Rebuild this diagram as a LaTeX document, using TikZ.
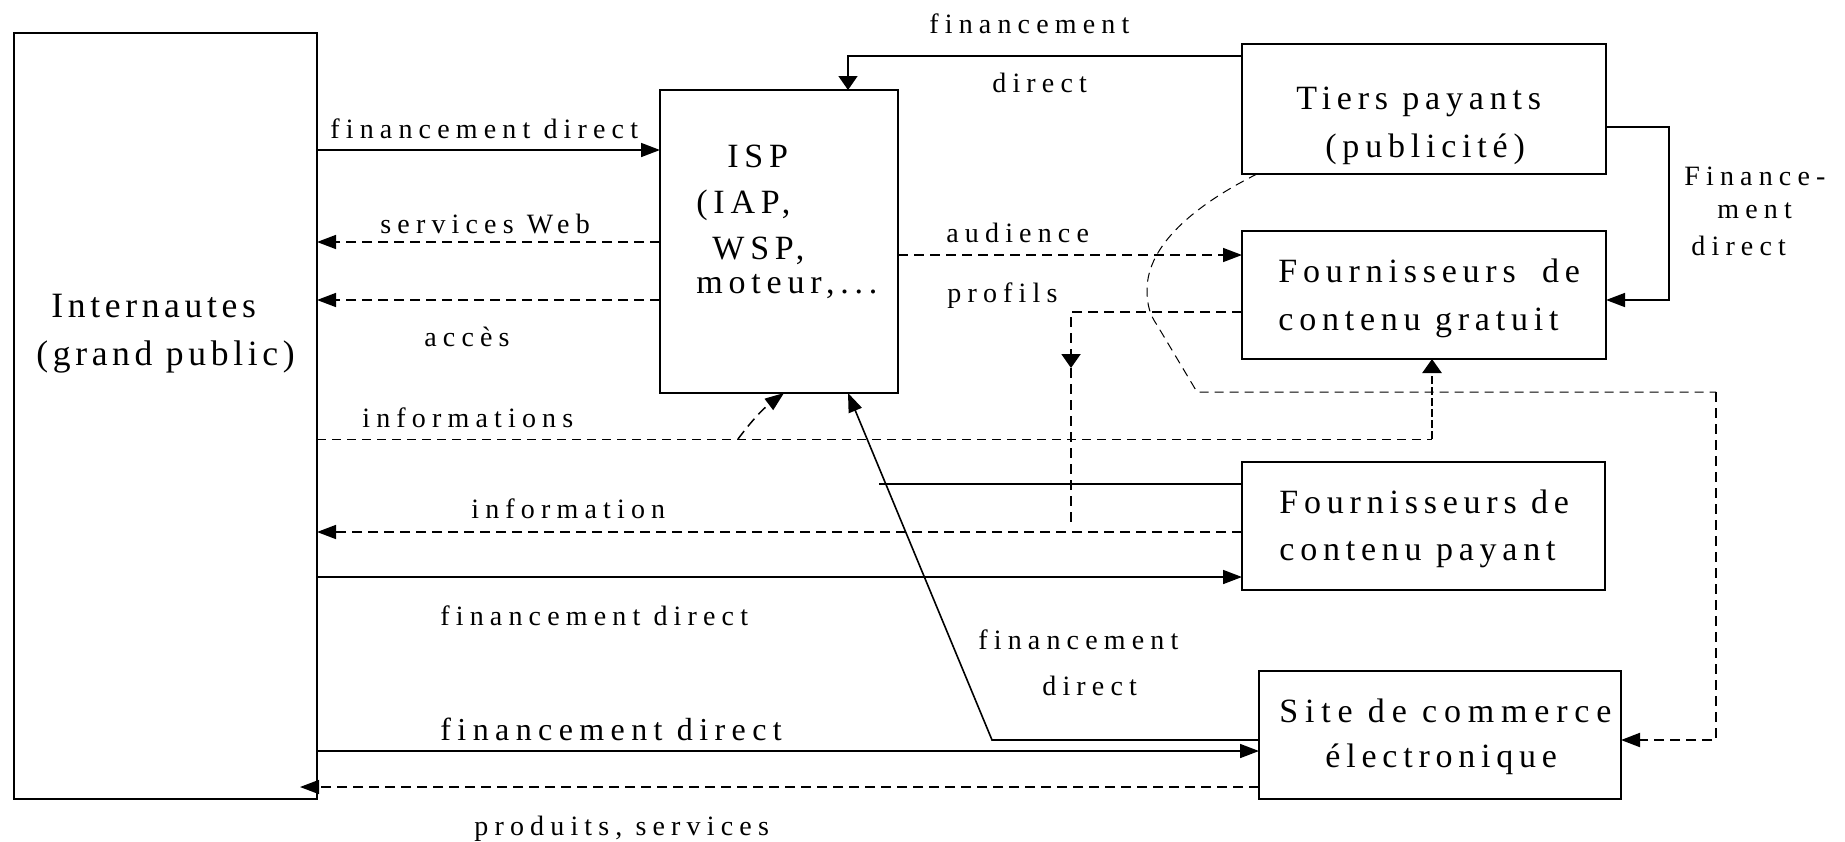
\documentclass[tikz,border=0pt]{standalone}
\usepackage{fontspec}
\setmainfont{Liberation Serif}
\usetikzlibrary{arrows.meta,calc}
\tikzset{
  box/.style={draw, line width=1pt, inner sep=0pt, outer sep=0pt},
  lbl/.style={anchor=base west, inner sep=0pt, font=\fontsize{14}{16}\selectfont\addfontfeature{LetterSpace=22}},
  lblbig/.style={anchor=base west, inner sep=0pt, font=\fontsize{16}{18}\selectfont\addfontfeature{LetterSpace=20}},
  btx/.style={anchor=base west, inner sep=0pt, font=\fontsize{17}{20}\selectfont\addfontfeature{LetterSpace=17}},
  btxw/.style={anchor=base west, inner sep=0pt, font=\fontsize{17}{20}\selectfont\addfontfeature{LetterSpace=20}},
  itx/.style={anchor=base west, inner sep=0pt, font=\fontsize{17.8}{20}\selectfont\addfontfeature{LetterSpace=13}},
  tip/.style={-{Triangle[length=9.5pt,width=7pt]}},
  tipv/.style={-{Triangle[length=7pt,width=9.5pt]}},
  sol/.style={line width=0.8pt},
  dsh/.style={line width=0.75pt, dash pattern=on 5pt off 3pt},
  dshthin/.style={line width=0.5pt, dash pattern=on 4.5pt off 3pt},
  dshthick/.style={line width=1pt, dash pattern=on 5pt off 3pt},
  dshheavy/.style={line width=1.3pt, dash pattern=on 4pt off 1.5pt},
}
\begin{document}
\begin{tikzpicture}[x=0.5pt,y=-0.5pt]
\useasboundingbox (0,0) rectangle (1845,841);
% boxes
\node[box, minimum width=151.5pt, minimum height=383pt] (inet) at (165.5,416) {};
\node[box, minimum width=119pt, minimum height=151.5pt] (isp) at (779,241.5) {};
\node[box, minimum width=182pt, minimum height=65pt] (tiers) at (1424,109) {};
\node[box, minimum width=182pt, minimum height=64pt] (grat) at (1424,295) {};
\node[box, minimum width=181.5pt, minimum height=64pt] (pay) at (1423.5,526) {};
\node[box, minimum width=181pt, minimum height=64pt] (site) at (1440,735) {};
% box texts
\node[itx] (t1) at (51,317) {Internautes};
\node[itx] (t2) at (36,365) {(grand public)};
\node[btx] (t3) at (727,167) {ISP};
\node[btx] (t4) at (696,213) {(IAP,};
\node[btx] (t5) at (712,259) {WSP,};
\node[btx] (t6) at (696,293) {moteur,...};
\node[btx] (t7) at (1296,109) {Tiers payants};
\node[btx] (t8) at (1325,157) {(publicité)};
\node[btx] (t9) at (1278,282) {Fournisseurs\hspace{6pt} de};
\node[btx] (t10) at (1278,330) {contenu gratuit};
\node[btx] (t11) at (1279,513) {Fournisseurs de};
\node[btx] (t12) at (1279,560) {contenu payant};
\node[btxw] (t13) at (1279,722) {Site de commerce};
\node[btx] (t14) at (1325,767) {électronique};
% connector labels
\node[lbl] (l1) at (929,33) {financement};
\node[lbl] (l2) at (992,92) {direct};
\node[lbl] (l3) at (330,138) {financement direct};
\node[lbl] (l4) at (380,233) {services Web};
\node[lbl] (l5) at (424,346) {accès};
\node[lbl] (l6) at (946,242) {audience};
\node[lbl] (l7) at (947,302) {profils};
\node[lbl] (l8) at (362,427) {informations};
\node[lbl] (l9) at (471,518) {information};
\node[lbl] (l10) at (440,625) {financement direct};
\node[lblbig] (l11) at (440,740) {financement direct};
\node[lbl] (l12) at (474,835) {produits, services};
\node[lbl] (l13) at (1684,185) {Finance-};
\node[lbl] (l14) at (1717,218) {ment};
\node[lbl] (l15) at (1691,255) {direct};
\node[lbl] (l16) at (978,649) {financement};
\node[lbl] (l17) at (1042,695) {direct};
% level coordinates
\coordinate (y56) at (0,56);
\coordinate (y127) at (0,127);
\coordinate (y150) at (0,150);
\coordinate (y242) at (0,242);
\coordinate (y255) at (0,255);
\coordinate (y300) at (0,300);
\coordinate (y312) at (0,312);
\coordinate (y439) at (0,439);
\coordinate (y484) at (0,484);
\coordinate (y532) at (0,532);
\coordinate (y577) at (0,577);
\coordinate (y740) at (0,740);
\coordinate (y751) at (0,751);
\coordinate (y787) at (0,787);
% connectors
\draw[sol,tip] (inet.east |- y150) -- (isp.west |- y150);
\draw[dsh,tip] (isp.west |- y242) -- (inet.east |- y242);
\draw[dsh,tip] (isp.west |- y300) -- (inet.east |- y300);
\draw[sol,tipv] (tiers.west |- y56) -| ([xshift=34.5pt]isp.north);
\draw[sol,tip] (tiers.east |- y127) -- ++(63,0) |- (grat.east |- y300);
\draw[dsh,tip] (isp.east |- y255) -- (grat.west |- y255);
\coordinate (pc) at (1071,368);
\coordinate (pe) at (1071,525);
\draw[dshthick,tipv] (grat.west |- y312) -| (pc);
\draw[dshthick] (pc) -- (pe);
\coordinate (ib) at (1432,439);
\coordinate (ia) at (738,439);
\draw[dshthin] (inet.east |- y439) -- (ib);
\draw[dshheavy,tipv] (ib) -- (grat.south -| ib);
\draw[dsh,tip] (ia) to[bend left=8] ([xshift=2.5pt]isp.south);
\draw[dsh,tip] (pay.west |- y532) -- (inet.east |- y532);
\draw[sol,tip] (inet.east |- y577) -- (pay.west |- y577);
\coordinate (pl) at (879,484);
\draw[line width=0.6pt] (pay.west |- y484) -- (pl);
\draw[sol,tip] (inet.east |- y751) -- (site.west |- y751);
\draw[dsh,tip] (site.west |- y787) -- ($(inet.east |- y787)+(-17,0)$);
\coordinate (dk) at (992,740);
\draw[sol,tip] (site.west |- y740) -- (dk) -- ([xshift=34.5pt]isp.south);
\coordinate (c0) at ([xshift=7.5pt]tiers.south west);
\coordinate (c1) at (1147,290);
\coordinate (c2) at (1157,325);
\coordinate (c3) at (1197,392);
\coordinate (c4) at (1716,392);
\draw[dshthin] (c0) .. controls (1195,205) and (1147,245) .. (c1)
   .. controls (1147,305) and (1150,315) .. (c2) -- (c3) -- (c4);
\draw[dshthick,tip] (c4) |- (site.east |- y740);
\end{tikzpicture}
\end{document}
